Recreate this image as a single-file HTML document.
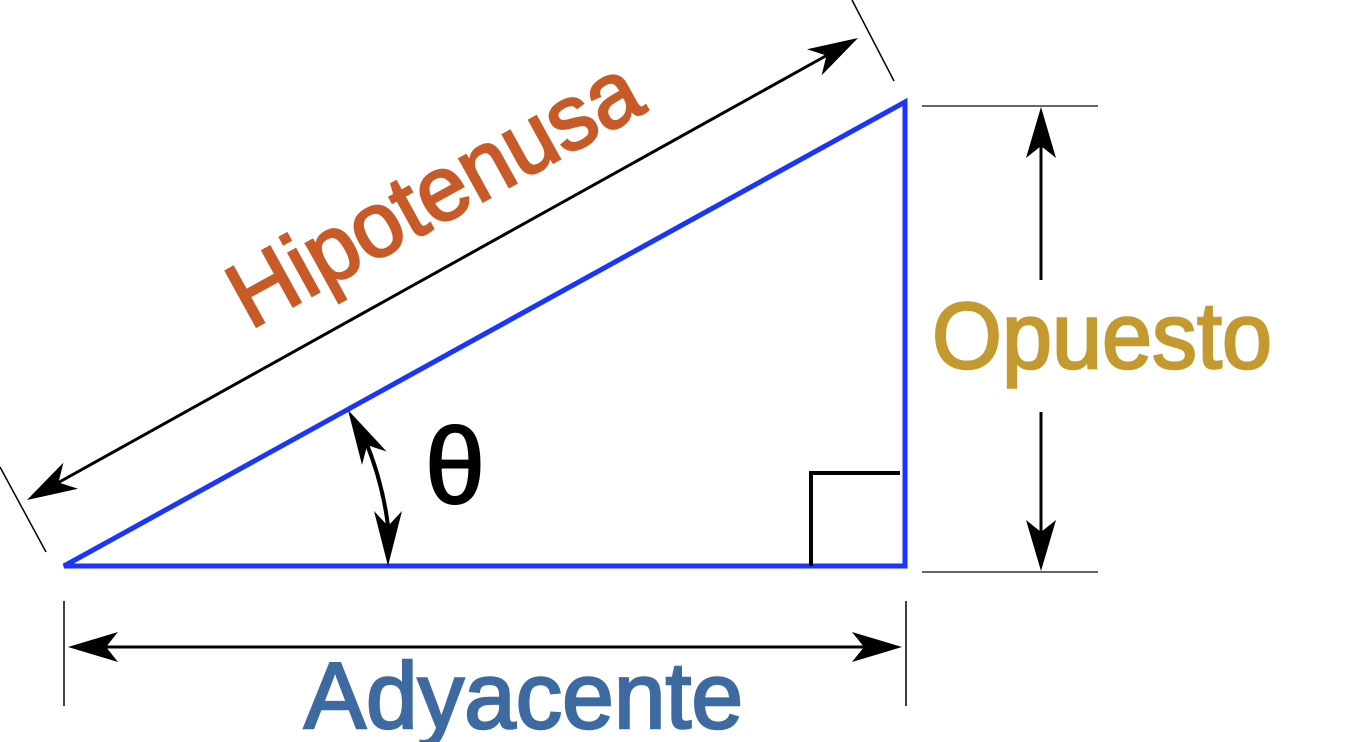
<!DOCTYPE html>
<html><head><meta charset="utf-8"><style>
html,body{margin:0;padding:0;background:#fff;}
svg{display:block;}
text{font-family:"Liberation Sans",sans-serif;}
</style></head><body>
<svg width="1352" height="742" viewBox="0 0 1352 742" xmlns="http://www.w3.org/2000/svg">
<!-- hypotenuse dimension -->
<line x1="0" y1="467" x2="46" y2="552" stroke="#000" stroke-width="1.5"/>
<line x1="852" y1="0" x2="894" y2="81" stroke="#000" stroke-width="1.5"/>
<line x1="58.5" y1="482.5" x2="826.5" y2="55.5" stroke="#000" stroke-width="3"/>
<polygon points="858,38 821.6,75.4 826.5,55.5 807,49.2" fill="#000"/>
<polygon points="27,500 78,488.8 58.5,482.5 63.4,462.6" fill="#000"/>
<!-- triangle -->
<polygon points="64,566 905,102 905,566" fill="none" stroke="#1a35ff" stroke-width="5" stroke-linejoin="miter"/>
<!-- right angle -->
<polyline points="811,566 811,473 900,473" fill="none" stroke="#000" stroke-width="4"/>
<!-- opuesto dimension -->
<line x1="922" y1="106" x2="1098" y2="106" stroke="#333" stroke-width="1.5"/>
<line x1="922" y1="572" x2="1098" y2="572" stroke="#333" stroke-width="1.5"/>
<line x1="1041" y1="146" x2="1041" y2="280" stroke="#000" stroke-width="3"/>
<line x1="1041" y1="412" x2="1041" y2="532" stroke="#000" stroke-width="3"/>
<polygon points="1041,107 1056,158 1041,146 1026,158" fill="#000"/>
<polygon points="1041,571 1056,520 1041,532 1026,520" fill="#000"/>
<!-- adyacente dimension -->
<line x1="64" y1="601" x2="64" y2="706" stroke="#000" stroke-width="1.5"/>
<line x1="906" y1="601" x2="906" y2="706" stroke="#000" stroke-width="1.5"/>
<line x1="106" y1="647" x2="864" y2="647" stroke="#000" stroke-width="3"/>
<polygon points="68,647 118,632 106,647 118,662" fill="#000"/>
<polygon points="902,647 852,632 864,647 852,662" fill="#000"/>
<!-- theta arc -->
<path d="M367.2,445.1 A326,326 0 0 1 388,526" fill="none" stroke="#000" stroke-width="4"/>
<polygon points="348,410 386.6,451.5 367.2,445.1 362,464.9" fill="#000"/>
<polygon points="388,566 402,511 388,526 374,511" fill="#000"/>
<text x="425" y="503" font-size="108" fill="#000" stroke="#000" stroke-width="2">θ</text>
<!-- labels -->
<text transform="translate(250,330) rotate(-28.9)" x="0" y="0" font-size="92" fill="#c85a28" stroke="#c85a28" stroke-width="2.5" textLength="455" lengthAdjust="spacingAndGlyphs">Hipotenusa</text>
<text x="932" y="368" font-size="94" fill="#c49a30" stroke="#c49a30" stroke-width="2.5" textLength="340" lengthAdjust="spacingAndGlyphs">Opuesto</text>
<text x="304" y="728" font-size="94" fill="#3d6aa0" stroke="#3d6aa0" stroke-width="2.5" textLength="439" lengthAdjust="spacingAndGlyphs">Adyacente</text>
</svg>
</body></html>
